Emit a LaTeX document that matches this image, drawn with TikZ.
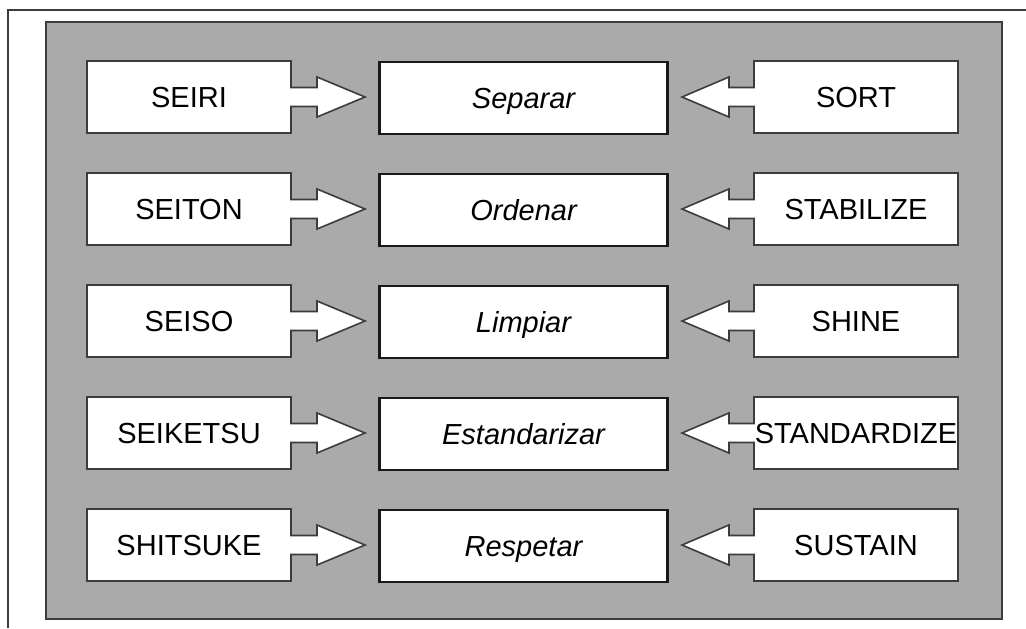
\documentclass[tikz,border=0pt]{standalone}
\usepackage{fontspec}
\setmainfont{Liberation Sans}
\usetikzlibrary{backgrounds}
\definecolor{panelgray}{RGB}{170,170,170}
\definecolor{linegray}{RGB}{60,60,60}

\begin{document}
\begin{tikzpicture}[x=0.5pt,y=-0.5pt,
  sidebox/.style={minimum width=102pt,minimum height=36pt,inner sep=0pt,outer sep=0pt,
    text height=10.4pt,text depth=0pt,font=\fontsize{14.5}{17}\selectfont},
  midbox/.style={draw=black!90,line width=1.4pt,fill=white,minimum width=144pt,minimum height=36pt,
    inner sep=0pt,outer sep=0pt,text height=10.4pt,text depth=0pt,
    font=\fontsize{14.5}{17}\selectfont\itshape},
  outline/.style={draw=linegray,line width=0.8pt,fill=white}]
  \useasboundingbox (0,0) rectangle (1026,628);

  % page frame
  \draw[linegray,line width=0.8pt] (8,628) -- (8,10) -- (1026,10);

  % japanese terms
  \node[sidebox] (seiri)    at (189,97)  {SEIRI};
  \node[sidebox] (seiton)   at (189,209) {SEITON};
  \node[sidebox] (seiso)    at (189,321) {SEISO};
  \node[sidebox] (seiketsu) at (189,433) {SEIKETSU};
  \node[sidebox] (shitsuke) at (189,545) {SHITSUKE};

  % spanish terms
  \node[midbox] (separar)      at (523.5,98)  {Separar};
  \node[midbox] (ordenar)      at (523.5,210) {Ordenar};
  \node[midbox] (limpiar)      at (523.5,322) {Limpiar};
  \node[midbox] (estandarizar) at (523.5,434) {Estandarizar};
  \node[midbox] (respetar)     at (523.5,546) {Respetar};

  % english terms
  \node[sidebox] (sort)        at (856,97)  {SORT};
  \node[sidebox] (stabilize)   at (856,209) {STABILIZE};
  \node[sidebox] (shine)       at (856,321) {SHINE};
  \node[sidebox] (standardize) at (856,433) {STANDARDIZE};
  \node[sidebox] (sustain)     at (856,545) {SUSTAIN};

  \begin{scope}[on background layer]
    \draw[linegray,line width=1pt,fill=panelgray] (46,22) rectangle (1002,619);
    % box with block arrow pointing right
    \foreach \n in {seiri,seiton,seiso,seiketsu,shitsuke}
      \draw[outline] (\n.north west) -- (\n.north east) -- ([shift={(0,-9.5)}]\n.east)
        -- ++(26,0) -- ++(0,-10.5) -- ([shift={(74,0)}]\n.east) -- ++(-48,20)
        -- ++(0,-10.5) -- ++(-26,0) -- (\n.south east) -- (\n.south west) -- cycle;
    % box with block arrow pointing left
    \foreach \n in {sort,stabilize,shine,standardize,sustain}
      \draw[outline] (\n.north east) -- (\n.north west) -- ([shift={(0,-9.5)}]\n.west)
        -- ++(-25,0) -- ++(0,-10.5) -- ([shift={(-72,0)}]\n.west) -- ++(47,20)
        -- ++(0,-10.5) -- ++(25,0) -- (\n.south west) -- (\n.south east) -- cycle;
  \end{scope}
\end{tikzpicture}
\end{document}
